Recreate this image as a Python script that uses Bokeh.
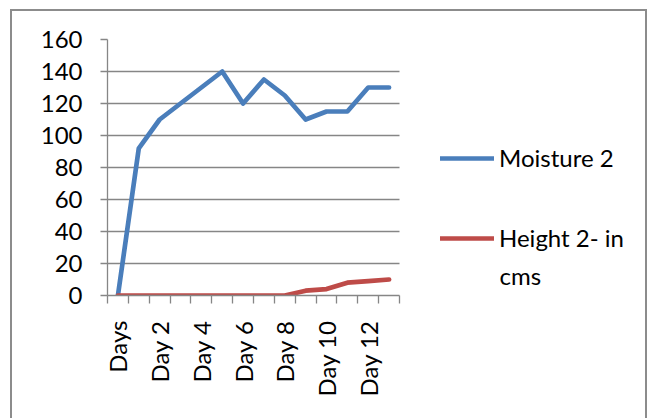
import math
from bokeh.plotting import figure
from bokeh.models import Range1d, FixedTicker, Legend, LegendItem, ColumnDataSource, Label
from bokeh.embed import file_html
from bokeh.resources import INLINE

categories = ["Days"] + ["Day %d" % i for i in range(1, 14)]
moisture = [0, 92, 110, 120, 130, 140, 120, 135, 125, 110, 115, 115, 130, 130]
height_cm = [0, 0, 0, 0, 0, 0, 0, 0, 0, 3, 4, 8, 9, 10]
y_ticks = [0, 20, 40, 60, 80, 100, 120, 140, 160]
label_every = 2
series_names = ["Moisture 2", "Height 2- in", "cms"]

FONT = "Lato"
FS = "24px"
GRAY = "#868686"
BLUE = "#4a7ebb"
RED = "#be4b48"

W, H = 637, 430
ML, MR, MT, MB = 95, 7, 28, 146
frame_w = W - ML - MR
px_per_cat = 292.0 / len(categories)
x_end = -0.5 + frame_w / px_per_cat

xs = list(range(len(categories)))
src = ColumnDataSource(dict(x=xs, cat=categories, moisture=moisture, height=height_cm))

p = figure(width=W, height=H, output_backend="svg", toolbar_location=None,
           x_range=Range1d(-0.5, x_end), y_range=Range1d(0, 160),
           min_border_left=ML, min_border_right=MR, min_border_top=MT, min_border_bottom=MB)
p.outline_line_color = None
p.background_fill_color = "white"
p.border_fill_color = "white"
p.styles = {"border": "2px solid #8c8c8c", "margin-left": "10px", "margin-top": "9px"}

r1 = p.line("x", "moisture", source=src, line_color=BLUE, line_width=4.7,
            line_join="round", line_cap="round")
r2 = p.line("x", "height", source=src, line_color=RED, line_width=4.7,
            line_join="round", line_cap="round")

cat_bounds = (-0.5, len(categories) - 0.5)

# y axis
ya = p.yaxis[0]
ya.ticker = FixedTicker(ticks=y_ticks, minor_ticks=[])
ya.axis_line_color = GRAY
ya.axis_line_width = 1.3
ya.major_tick_line_color = GRAY
ya.major_tick_line_width = 1.3
ya.major_tick_in = 0
ya.major_tick_out = 7
ya.minor_tick_line_color = None
ya.major_label_standoff = 18
ya.major_label_text_font = FONT
ya.major_label_text_font_size = FS
ya.major_label_text_color = "black"

# x axis
xa = p.xaxis[0]
major = [i for i in xs if i % label_every == 0]
bounds = [i - 0.5 for i in range(len(categories) + 1)]
xa.ticker = FixedTicker(ticks=major, minor_ticks=bounds)
xa.bounds = cat_bounds
xa.major_label_overrides = {i: categories[i] for i in major}
xa.axis_line_color = GRAY
xa.axis_line_width = 1.3
xa.major_tick_line_color = None
xa.minor_tick_line_color = GRAY
xa.minor_tick_line_width = 1.3
xa.minor_tick_in = 0
xa.minor_tick_out = 8
xa.major_label_orientation = math.pi / 2
xa.major_label_standoff = 17
xa.major_label_text_font = FONT
xa.major_label_text_font_size = FS
xa.major_label_text_color = "black"

p.xgrid.grid_line_color = None
p.ygrid.ticker = FixedTicker(ticks=y_ticks)
p.ygrid.grid_line_color = GRAY
p.ygrid.grid_line_width = 1.3
p.ygrid.cross_bounds = cat_bounds

def make_legend(item, loc):
    lg = Legend(items=[item], location=loc, orientation="vertical")
    lg.border_line_color = None
    lg.background_fill_alpha = 0
    lg.padding = 0
    lg.margin = 0
    lg.spacing = 0
    lg.glyph_width = 54
    lg.glyph_height = 24
    lg.label_height = 24
    lg.label_standoff = 5
    lg.label_text_font = FONT
    lg.label_text_font_size = FS
    lg.label_text_color = "black"
    return lg

leg1 = make_legend(LegendItem(label=series_names[0], renderers=[r1]), (333, 123))
leg2 = make_legend(LegendItem(label=series_names[1], renderers=[r2]), (333, 43))
p.add_layout(leg1)
p.add_layout(leg2)

wrap = Label(x=333 + 54 + 5, y=20, x_units="screen", y_units="screen", text=series_names[2],
             text_font=FONT, text_font_size=FS, text_color="black", text_baseline="middle")
p.add_layout(wrap)

open("out.html", "w").write(file_html(p, INLINE))
